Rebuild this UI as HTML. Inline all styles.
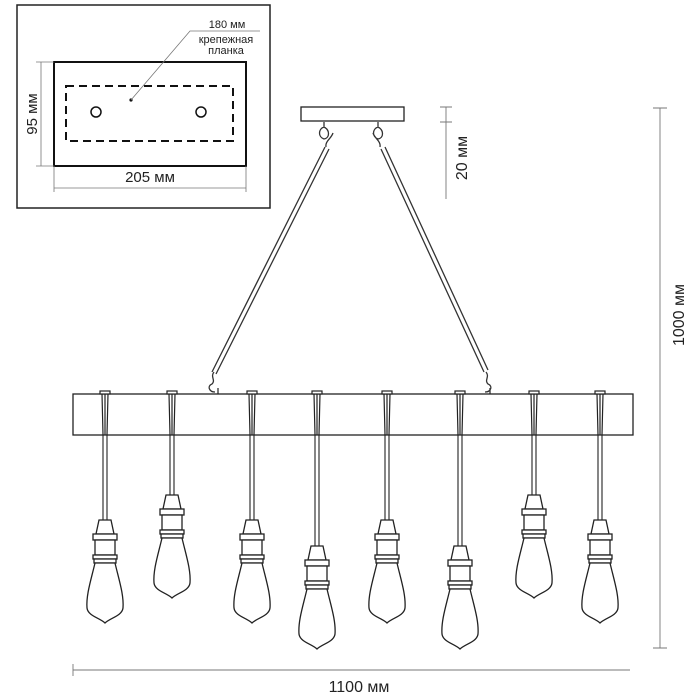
<!DOCTYPE html><html><head><style>body{margin:0;background:#fff}svg{display:block}text{font-family:"Liberation Sans",sans-serif;fill:#222}</style></head><body>
<svg width="700" height="700" viewBox="0 0 700 700" xmlns="http://www.w3.org/2000/svg">
<defs>
<g id="b" fill="#fff" stroke="#222" stroke-width="1.3">
<path d="M-6,0 L6,0 L9,14 L-9,14 Z"/>
<rect x="-12" y="14" width="24" height="6"/>
<rect x="-10" y="20" width="20" height="15"/>
<rect x="-12" y="35" width="24" height="4"/>
<rect x="-11" y="39" width="22" height="4"/>
<path d="M-10,43 C-14,60 -19,75 -18,88 C-17,96 -5,98 0,103 C5,98 17,96 18,88 C19,75 14,60 10,43 Z"/>
</g>
<g id="s" stroke="#222" stroke-width="1.2" fill="#fff"><rect x="-5" y="-3" width="10" height="3"/><path d="M-3,0 L-2,41 M3,0 L2,41 M0,0 L0,41"/></g>
</defs>
<!-- inset -->
<rect x="17" y="5" width="253" height="203" fill="none" stroke="#222" stroke-width="1.5"/>
<rect x="54" y="62" width="192" height="104" fill="none" stroke="#111" stroke-width="2"/>
<rect x="66" y="86" width="167" height="55" fill="none" stroke="#111" stroke-width="2" stroke-dasharray="8,5"/>
<circle cx="96" cy="112" r="5" fill="none" stroke="#111" stroke-width="1.5"/>
<circle cx="201" cy="112" r="5" fill="none" stroke="#111" stroke-width="1.5"/>
<circle cx="131" cy="100" r="1.6" fill="#111"/>
<path d="M131,100 L190,31 L260,31" fill="none" stroke="#777" stroke-width="0.8"/>
<text x="227" y="28" font-size="11" text-anchor="middle">180 мм</text>
<text x="226" y="43" font-size="11" text-anchor="middle">крепежная</text>
<text x="226" y="54" font-size="11" text-anchor="middle">планка</text>
<path d="M41,62 L41,166 M36,62 L54,62 M36,166 L54,166" stroke="#777" stroke-width="0.8"/>
<text transform="translate(37,114) rotate(-90)" font-size="15" text-anchor="middle">95 мм</text>
<path d="M54,188 L246,188 M54,166 L54,192 M246,166 L246,192" stroke="#777" stroke-width="0.8"/>
<text x="150" y="182" font-size="15" text-anchor="middle">205 мм</text>
<!-- canopy -->
<rect x="301" y="107" width="103" height="14" fill="#fff" stroke="#222" stroke-width="1.3"/>
<!-- rods -->
<g stroke="#333" stroke-width="1.3" fill="none">
<path d="M325,147 L212,372 M329,149 L216,374"/>
<path d="M381,149 L484,372 M385,147 L488,370"/>
<path d="M324,122 l0,5 c-6,2 -6,10 0,12 c6,-1 6,-9 0,-12 M333,133 c-2,6 -8,8 -7,14"/>
<path d="M378,122 l0,5 c-6,2 -6,10 0,12 c6,-1 6,-9 0,-12 M373,133 c2,6 8,8 7,14"/>
<path d="M214,372 c-4,5 2,8 -2,12 c-5,2 -3,8 3,8 M218,394 l0,-6"/>
<path d="M486,372 c4,5 -2,8 2,12 c5,2 3,8 -3,8 M490,394 l0,-6"/>
</g>
<!-- beam -->
<rect x="73" y="394" width="560" height="41" fill="#fff" stroke="#222" stroke-width="1.3"/>
<use href="#s" x="105" y="394"/><use href="#s" x="172" y="394"/>
<use href="#s" x="252" y="394"/><use href="#s" x="317" y="394"/>
<use href="#s" x="387" y="394"/><use href="#s" x="460" y="394"/>
<use href="#s" x="534" y="394"/><use href="#s" x="600" y="394"/>
<!-- cords -->
<g stroke="#222" stroke-width="1.1">
<path d="M103,435V520M107,435V520"/><path d="M170,435V495M174,435V495"/>
<path d="M250,435V520M254,435V520"/><path d="M315,435V546M319,435V546"/>
<path d="M385,435V520M389,435V520"/><path d="M458,435V546M462,435V546"/>
<path d="M532,435V495M536,435V495"/><path d="M598,435V520M602,435V520"/>
</g>
<use href="#b" x="105" y="520"/><use href="#b" x="172" y="495"/>
<use href="#b" x="252" y="520"/><use href="#b" x="317" y="546"/>
<use href="#b" x="387" y="520"/><use href="#b" x="460" y="546"/>
<use href="#b" x="534" y="495"/><use href="#b" x="600" y="520"/>
<!-- dimensions -->
<g stroke="#777" stroke-width="0.9">
<path d="M446,107 L446,199 M440,107 L452,107 M440,122 L452,122"/>
<path d="M660,108 L660,648 M653,108 L667,108 M653,648 L667,648"/>
<path d="M73,670 L630,670 M73,664 L73,676"/>
</g>
<text transform="translate(467,158) rotate(-90)" font-size="16" text-anchor="middle">20 мм</text>
<text transform="translate(684,315) rotate(-90)" font-size="16" text-anchor="middle">1000 мм</text>
<text x="359" y="692" font-size="16" text-anchor="middle">1100 мм</text>
</svg>
</body></html>
